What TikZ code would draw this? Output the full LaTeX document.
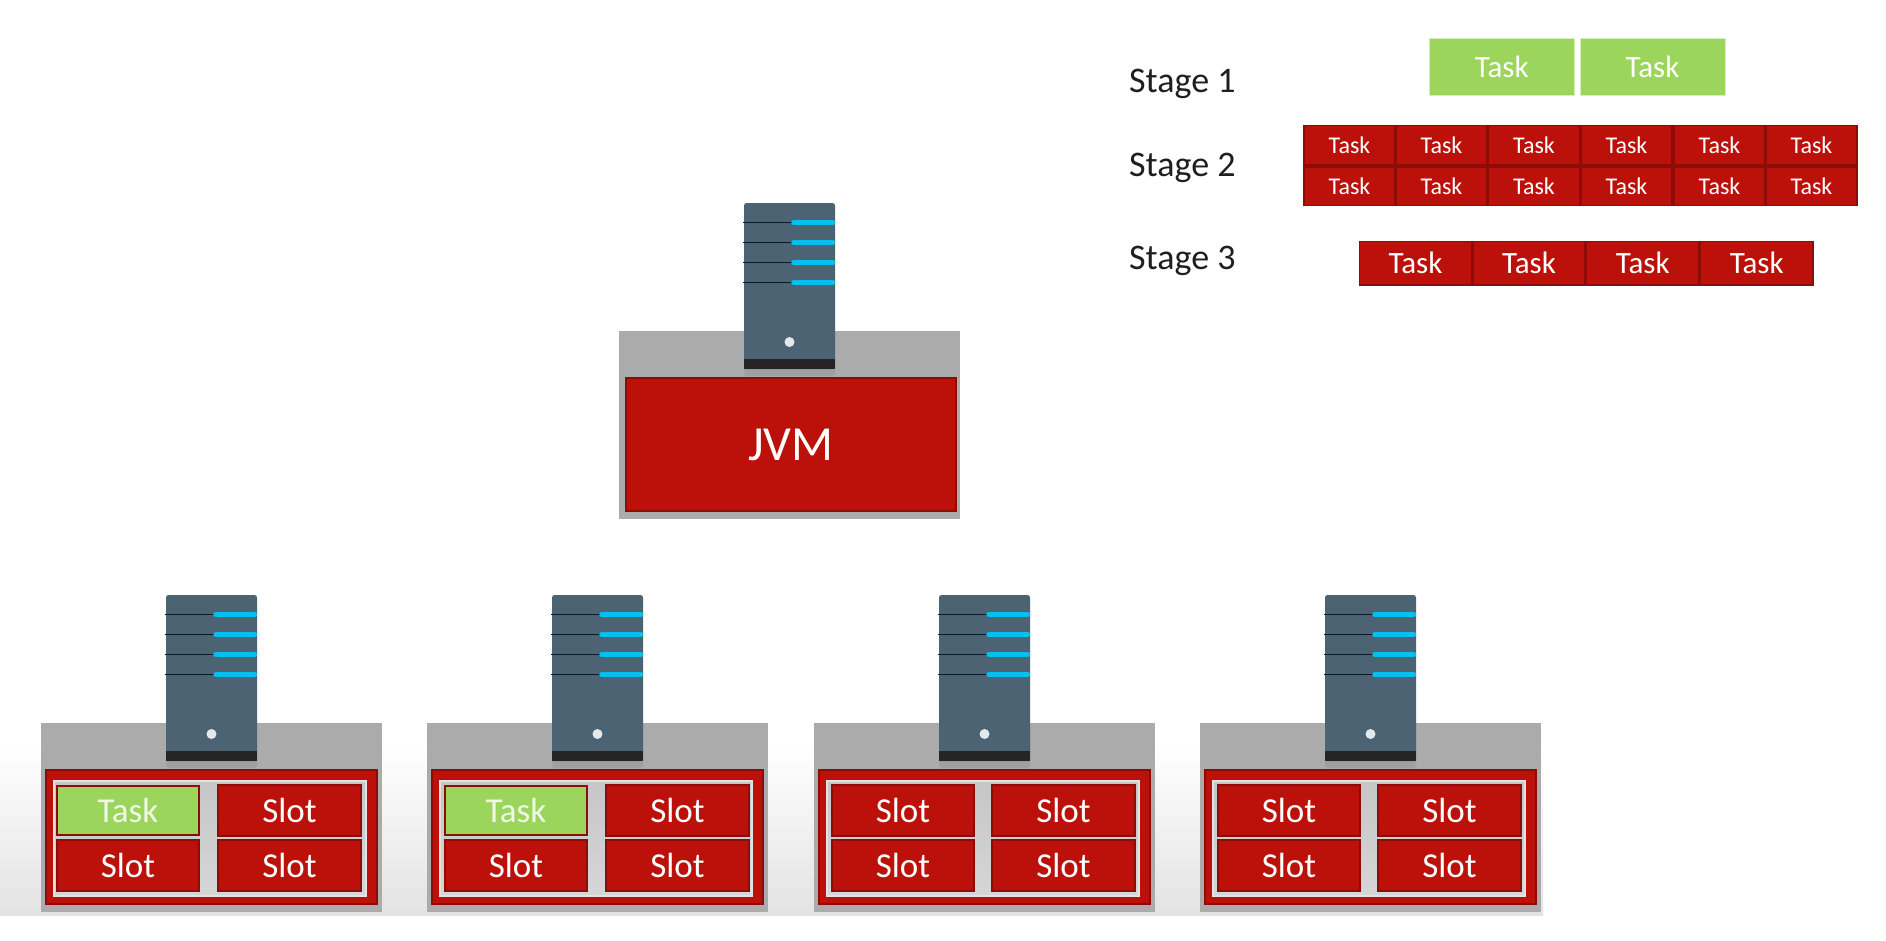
\documentclass[tikz,border=0pt]{standalone}
\usepackage{fontspec}
\setmainfont{Carlito}
\usetikzlibrary{calc}
\definecolor{redfill}{HTML}{BC110B}
\definecolor{redline}{HTML}{8E0C08}
\definecolor{greenfill}{HTML}{9BD55C}
\definecolor{greybox}{HTML}{ABABAB}
\definecolor{srvbody}{HTML}{4C6374}
\definecolor{srvband}{HTML}{262425}
\definecolor{srvcyan}{HTML}{05BFEE}
\definecolor{srvline}{HTML}{0B1A26}
\definecolor{frametop}{HTML}{C6C6C6}
\definecolor{framebot}{HTML}{D6D6D6}
\definecolor{frameline}{HTML}{E6E2E0}
\newcommand{\lowertext}[1]{\raisebox{-1.5pt}{#1}}
\tikzset{
  x=1pt,y=-1pt,
  cell/.style={rectangle,inner sep=0pt,outer sep=0pt,text=white,anchor=center},
  hostbox/.style={cell,fill=greybox},
  redbox/.style={cell,fill=redfill,draw=redline,line width=1.2pt},
  greenbox/.style={cell,fill=greenfill,draw=white!60!greenfill,line width=.8pt},
  slotgreen/.style={cell,fill=greenfill,draw=redline,line width=2.5pt,text=white!85!greenfill},
  framebox/.style={cell,top color=frametop,bottom color=framebot,draw=frameline,line width=2pt},
  bigtext/.style={font=\fontsize{31}{34}\selectfont},
  smalltext/.style={font=\fontsize{24}{27}\selectfont},
  slottext/.style={font=\fontsize{35}{40}\selectfont},
  jvmtext/.style={font=\fontsize{49}{54}\selectfont},
  stagetext/.style={font=\fontsize{36}{40}\selectfont,text=black!88,inner sep=0pt,anchor=base west},
  srvshell/.style={cell,fill=srvbody,rounded corners=2.5pt},
  srvshadow/.style={cell,fill=black!55,fill opacity=.18,rounded corners=3pt},
  srvfoot/.style={cell,fill=srvband},
  srvled/.style={circle,fill=white!85!srvbody,inner sep=0pt,outer sep=0pt,minimum size=10pt},
  srvblack/.style={draw=srvline,line width=1.6pt},
  srvblue/.style={draw=srvcyan,line width=5.5pt,line cap=round},
}
% name, style, x1, y1, x2, y2, text
\newcommand{\rectnode}[7]{%
  \pgfmathsetmacro{\rw}{(#5)-(#3)}\pgfmathsetmacro{\rh}{(#6)-(#4)}%
  \pgfmathsetmacro{\rx}{((#3)+(#5))/2}\pgfmathsetmacro{\ry}{((#4)+(#6))/2}%
  \node[#2,minimum width=\rw pt,minimum height=\rh pt] (#1) at (\rx,\ry) {#7};}
% name, x of left edge, y of top edge
\newcommand{\serverat}[3]{%
  \pgfmathsetmacro{\sxa}{#2}\pgfmathsetmacro{\sya}{#3}%
  \pgfmathsetmacro{\sxb}{\sxa+91}\pgfmathsetmacro{\syb}{\sya+166}%
  \pgfmathsetmacro{\sxc}{\sxa+50}%
  \rectnode{#1shadow}{srvshadow}{\sxa}{\sya+120}{\sxb}{\syb+7}{}
  \rectnode{#1}{srvshell}{\sxa}{\sya}{\sxb}{\syb}{}
  \rectnode{#1foot}{srvfoot}{\sxa}{\syb-10}{\sxb}{\syb}{}
  \node[srvled] (#1led) at (\sxa+45.5,\syb-27) {};
  \foreach \n/\dy in {a/19.5,b/39.5,c/59.5,d/79.5}{
    \coordinate (#1\n0) at (\sxa-1,\sya+\dy);
    \coordinate (#1\n1) at (\sxc,\sya+\dy);
    \coordinate (#1\n2) at (\sxb-2.5,\sya+\dy);
    \draw[srvblack] (#1\n0) -- (#1\n1);
    \draw[srvblue] (#1\n1) -- (#1\n2);
  }}
\begin{document}
\begin{tikzpicture}
\useasboundingbox (0,0) rectangle (1886,940);
\fill[white] (0,0) rectangle (1886,940);
% bottom fade
\shade[top color=white,bottom color=black!11] (0,745) rectangle (1543,915);

% Stages
\node[stagetext] (s1) at (1129,92) {Stage 1};
\node[stagetext] (s2) at (1129,176) {Stage 2};
\node[stagetext] (s3) at (1129,269) {Stage 3};

\rectnode{g1}{greenbox,bigtext}{1429}{38.7}{1574.5}{95.7}{\lowertext{Task}}
\rectnode{g2}{greenbox,bigtext}{1580}{38.7}{1725}{95.7}{\lowertext{Task}}

\foreach \i/\xa/\xb in {1/1304/1395,2/1396/1487,3/1488/1580,4/1581/1672,5/1674/1765,6/1766/1857}{
  \rectnode{ta\i}{redbox,smalltext}{\xa}{125.5}{\xb}{165}{\lowertext{Task}}
  \rectnode{tb\i}{redbox,smalltext}{\xa}{167}{\xb}{205.5}{\lowertext{Task}}
}
\foreach \i/\xa/\xb in {1/1359.5/1471.5,2/1473/1585,3/1586.5/1699,4/1700.5/1813}{
  \rectnode{tc\i}{redbox,bigtext}{\xa}{241.5}{\xb}{285}{\lowertext{Task}}
}

% JVM host
\rectnode{jvmhost}{hostbox}{619}{331}{960}{519}{}
\rectnode{jvm}{redbox,jvmtext}{626}{378}{956}{511}{\lowertext{JVM}}
\serverat{jvmsrv}{744}{203}

% Workers
\foreach \k/\ox/\sa/\sb in {1/41/57/218,2/427/445/606,3/814/832/992,4/1200/1218/1378}{
  \rectnode{host\k}{hostbox}{\ox}{723}{\ox+341}{912}{}
  \rectnode{tm\k}{redbox}{\ox+5}{770}{\ox+336}{904}{}
  \rectnode{frame\k}{framebox}{\ox+13}{781}{\ox+324.5}{896}{}
  \ifnum\k<3
    \rectnode{sl\k a}{slotgreen,slottext}{\sa}{786}{\sa+142}{835}{\lowertext{Task}}
  \else
    \rectnode{sl\k a}{redbox,slottext}{\sa}{785}{\sa+142}{836}{\lowertext{Slot}}
  \fi
  \rectnode{sl\k b}{redbox,slottext}{\sb}{785}{\sb+143}{836}{\lowertext{Slot}}
  \rectnode{sl\k c}{redbox,slottext}{\sa}{840}{\sa+142}{891}{\lowertext{Slot}}
  \rectnode{sl\k d}{redbox,slottext}{\sb}{840}{\sb+143}{891}{\lowertext{Slot}}
  \serverat{srv\k}{\ox+125}{595}
}
\end{tikzpicture}
\end{document}
